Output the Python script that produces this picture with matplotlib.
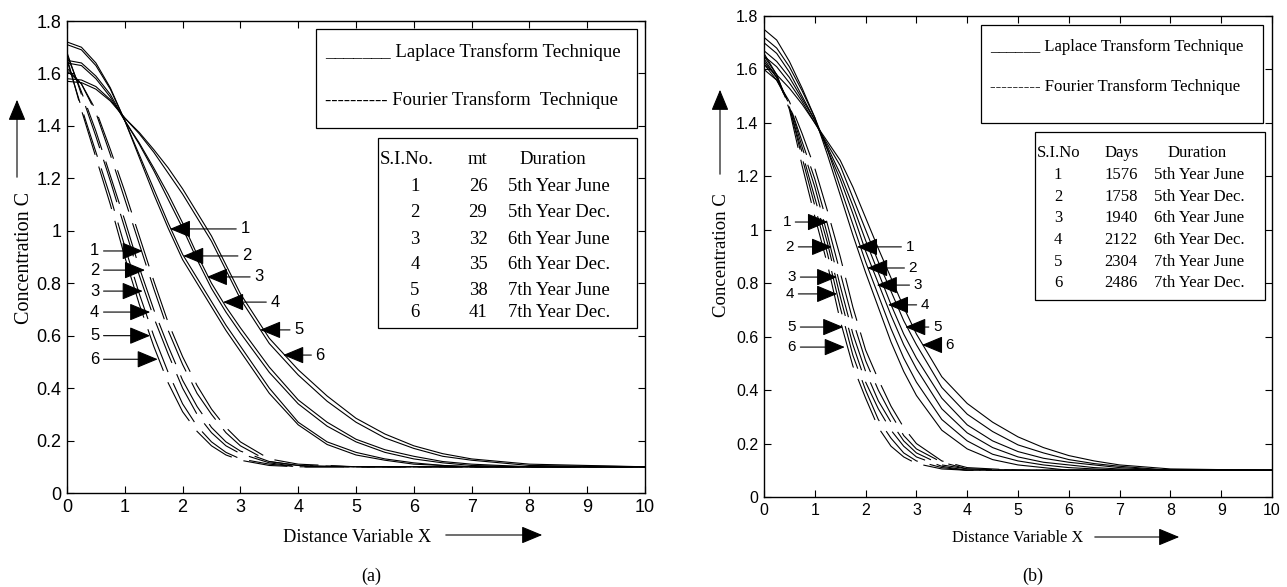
import matplotlib
matplotlib.use('Agg')
import matplotlib.pyplot as plt
from matplotlib.patches import Rectangle, FancyArrowPatch
from matplotlib.ticker import FormatStrFormatter

x_lap = [0, 0.25, 0.5, 0.75, 1, 1.25, 1.5, 1.75, 2, 2.25, 2.5, 2.75, 3,
         3.5, 4, 4.5, 5, 5.5, 6, 6.5, 7, 8, 10]
x_four = [0, 0.25, 0.5, 0.75, 1, 1.25, 1.5, 1.75, 2, 2.25, 2.5, 2.75, 3, 3.5, 4, 5, 10]

# panel (a) - Laplace transform technique (solid), curves 1..6
lap_a = [
    [1.72, 1.70, 1.64, 1.545, 1.42, 1.28, 1.14, 1.01, 0.89, 0.80, 0.71, 0.62, 0.54,
     0.38, 0.26, 0.185, 0.145, 0.125, 0.11, 0.105, 0.10, 0.10, 0.10],
    [1.71, 1.69, 1.63, 1.54, 1.42, 1.29, 1.16, 1.03, 0.91, 0.82, 0.73, 0.64, 0.56,
     0.40, 0.27, 0.195, 0.155, 0.13, 0.115, 0.105, 0.10, 0.10, 0.10],
    [1.65, 1.64, 1.59, 1.52, 1.42, 1.33, 1.23, 1.12, 1.01, 0.89, 0.78, 0.69, 0.61,
     0.46, 0.34, 0.255, 0.195, 0.155, 0.13, 0.115, 0.105, 0.10, 0.10],
    [1.64, 1.63, 1.58, 1.51, 1.42, 1.335, 1.24, 1.14, 1.03, 0.91, 0.80, 0.71, 0.63,
     0.48, 0.355, 0.27, 0.205, 0.165, 0.14, 0.12, 0.11, 0.10, 0.10],
    [1.58, 1.575, 1.55, 1.50, 1.43, 1.37, 1.30, 1.22, 1.14, 1.05, 0.96, 0.85, 0.74,
     0.57, 0.45, 0.35, 0.27, 0.21, 0.17, 0.14, 0.125, 0.105, 0.10],
    [1.57, 1.565, 1.54, 1.495, 1.43, 1.375, 1.31, 1.24, 1.16, 1.07, 0.98, 0.87, 0.76,
     0.59, 0.47, 0.37, 0.285, 0.225, 0.18, 0.15, 0.13, 0.11, 0.10],
]
# panel (a) - Fourier transform technique (dashed)
four_a = [
    [1.66, 1.46, 1.28, 1.10, 0.90, 0.72, 0.56, 0.42, 0.31, 0.235, 0.18, 0.145, 0.125, 0.105, 0.10, 0.10, 0.10],
    [1.65, 1.47, 1.30, 1.13, 0.94, 0.76, 0.60, 0.46, 0.34, 0.255, 0.195, 0.155, 0.13, 0.11, 0.10, 0.10, 0.10],
    [1.68, 1.52, 1.36, 1.19, 1.01, 0.83, 0.67, 0.53, 0.40, 0.30, 0.23, 0.18, 0.15, 0.115, 0.10, 0.10, 0.10],
    [1.67, 1.53, 1.38, 1.21, 1.04, 0.86, 0.70, 0.56, 0.43, 0.33, 0.25, 0.195, 0.16, 0.12, 0.105, 0.10, 0.10],
    [1.62, 1.56, 1.45, 1.29, 1.12, 0.95, 0.78, 0.62, 0.49, 0.38, 0.30, 0.23, 0.18, 0.12, 0.105, 0.10, 0.10],
    [1.61, 1.56, 1.46, 1.31, 1.15, 0.98, 0.81, 0.65, 0.52, 0.41, 0.32, 0.25, 0.195, 0.13, 0.11, 0.10, 0.10],
]

# panel (b) - Laplace (solid)
lap_b = [
    [1.75, 1.71, 1.63, 1.53, 1.42, 1.28, 1.13, 0.98, 0.84, 0.71, 0.58, 0.47, 0.38,
     0.25, 0.18, 0.14, 0.12, 0.11, 0.10, 0.10, 0.10, 0.10, 0.10],
    [1.72, 1.68, 1.61, 1.52, 1.42, 1.30, 1.16, 1.02, 0.88, 0.755, 0.63, 0.52, 0.43,
     0.29, 0.21, 0.16, 0.135, 0.12, 0.11, 0.105, 0.10, 0.10, 0.10],
    [1.70, 1.66, 1.59, 1.50, 1.41, 1.30, 1.19, 1.06, 0.92, 0.80, 0.68, 0.57, 0.48,
     0.33, 0.24, 0.185, 0.15, 0.13, 0.12, 0.11, 0.105, 0.10, 0.10],
    [1.67, 1.63, 1.57, 1.49, 1.41, 1.31, 1.21, 1.09, 0.96, 0.84, 0.72, 0.61, 0.52,
     0.37, 0.27, 0.21, 0.17, 0.145, 0.13, 0.12, 0.11, 0.10, 0.10],
    [1.65, 1.61, 1.55, 1.48, 1.40, 1.32, 1.24, 1.12, 1.00, 0.88, 0.77, 0.66, 0.57,
     0.41, 0.31, 0.245, 0.195, 0.165, 0.14, 0.125, 0.115, 0.10, 0.10],
    [1.62, 1.58, 1.53, 1.47, 1.40, 1.33, 1.26, 1.16, 1.045, 0.93, 0.82, 0.71, 0.61,
     0.45, 0.35, 0.28, 0.225, 0.185, 0.155, 0.135, 0.12, 0.105, 0.10],
]
# panel (b) - Fourier (dashed)
four_b = [
    [1.66, 1.58, 1.45, 1.24, 1.05, 0.87, 0.66, 0.49, 0.37, 0.26, 0.19, 0.15, 0.125, 0.105, 0.10, 0.10, 0.10],
    [1.65, 1.58, 1.46, 1.27, 1.09, 0.91, 0.71, 0.53, 0.40, 0.29, 0.22, 0.165, 0.135, 0.11, 0.10, 0.10, 0.10],
    [1.64, 1.57, 1.46, 1.29, 1.12, 0.95, 0.75, 0.57, 0.43, 0.33, 0.25, 0.19, 0.15, 0.115, 0.10, 0.10, 0.10],
    [1.63, 1.57, 1.47, 1.31, 1.16, 0.98, 0.79, 0.61, 0.47, 0.36, 0.28, 0.21, 0.165, 0.12, 0.105, 0.10, 0.10],
    [1.62, 1.56, 1.47, 1.33, 1.19, 1.02, 0.84, 0.66, 0.51, 0.40, 0.31, 0.23, 0.18, 0.13, 0.105, 0.10, 0.10],
    [1.60, 1.56, 1.48, 1.36, 1.23, 1.07, 0.90, 0.71, 0.55, 0.44, 0.34, 0.26, 0.20, 0.135, 0.11, 0.10, 0.10],
]

curve_labels = ['1', '2', '3', '4', '5', '6']

# table contents
sl_no = ['1', '2', '3', '4', '5', '6']
mt_a = ['26', '29', '32', '35', '38', '41']
days_b = ['1576', '1758', '1940', '2122', '2304', '2486']
duration = ['5th Year June', '5th Year Dec.', '6th Year June',
            '6th Year Dec.', '7th Year June', '7th Year Dec.']

SANS = 'Liberation Sans'
SERIF = 'Liberation Serif'
W, H = 1287, 587
HEAD = '-|>,head_length=0.65,head_width=0.27'

fig = plt.figure(figsize=(W / 100, H / 100), dpi=100)
ax_a = fig.add_axes([67 / W, 1 - 493 / H, (645 - 67) / W, (493 - 21) / H])
ax_b = fig.add_axes([764 / W, 1 - 497 / H, (1272 - 764) / W, (497 - 16) / H])

dash = (0, (40, 11))


def style_axes(ax, fs):
    ax.set_xlim(0, 10)
    ax.set_ylim(0, 1.8)
    ax.set_xticks(range(0, 11))
    ax.set_yticks([0, 0.2, 0.4, 0.6, 0.8, 1.0, 1.2, 1.4, 1.6, 1.8])
    ax.yaxis.set_major_formatter(FormatStrFormatter('%g'))
    ax.tick_params(direction='in', top=True, right=True, length=5, width=0.8,
                   labelsize=fs, pad=4)
    for lab in ax.get_xticklabels() + ax.get_yticklabels():
        lab.set_family(SANS)
    for s in ax.spines.values():
        s.set_linewidth(1.0)


def arrow_note(ax, text, tip, pos, fs):
    ax.annotate(text, xy=tip, xytext=pos, ha='center', va='center',
                fontsize=fs, family=SANS,
                arrowprops=dict(arrowstyle=HEAD, color='k', lw=0.8,
                                shrinkA=1, shrinkB=0, mutation_scale=20))


# ---------------- panel (a)
for y in lap_a:
    ax_a.plot(x_lap, y, color='k', lw=0.8)
for y in four_a:
    ax_a.plot(x_four, y, color='k', lw=0.8, linestyle=dash)
style_axes(ax_a, 13)

tips_a_lap = [(1.78, 1.007), (2.01, 0.904), (2.42, 0.824), (2.70, 0.728), (3.34, 0.622), (3.74, 0.526)]
pos_a_lap = [(3.08, 1.007), (3.11, 0.904), (3.32, 0.824), (3.60, 0.728), (4.01, 0.622), (4.38, 0.526)]
tips_a_four = [(1.31, 0.923), (1.35, 0.85), (1.31, 0.77), (1.44, 0.69), (1.44, 0.60), (1.57, 0.51)]
pos_a_four = [(0.48, 0.923), (0.48, 0.85), (0.48, 0.77), (0.48, 0.69), (0.48, 0.60), (0.48, 0.51)]
for lab, t, p in zip(curve_labels, tips_a_lap, pos_a_lap):
    arrow_note(ax_a, lab, t, p, 12)
for lab, t, p in zip(curve_labels, tips_a_four, pos_a_four):
    arrow_note(ax_a, lab, t, p, 12)

ax_a.add_patch(Rectangle((4.31, 1.392), 9.86 - 4.31, 1.770 - 1.392, fill=False, lw=0.9, zorder=5))
ax_a.text(4.46, 1.682, '_______ Laplace Transform Technique', family=SERIF, fontsize=13.5, va='center')
ax_a.text(4.46, 1.499, '---------- Fourier Transform  Technique', family=SERIF, fontsize=13.5, va='center')

ax_a.add_patch(Rectangle((5.38, 0.629), 9.86 - 5.38, 1.354 - 0.629, fill=False, lw=0.9, zorder=5))
rows_a = [1.167, 1.068, 0.965, 0.870, 0.774, 0.690]
ax_a.text(5.88, 1.27, 'S.I.No.', family=SERIF, fontsize=13.5, ha='center', va='center')
ax_a.text(7.11, 1.27, 'mt', family=SERIF, fontsize=13.5, ha='center', va='center')
ax_a.text(8.41, 1.27, 'Duration', family=SERIF, fontsize=13.5, ha='center', va='center')
for ry, n, m, d in zip(rows_a, sl_no, mt_a, duration):
    ax_a.text(6.02, ry, n, family=SERIF, fontsize=13.5, ha='center', va='center')
    ax_a.text(7.11, ry, m, family=SERIF, fontsize=13.5, ha='center', va='center')
    ax_a.text(7.63, ry, d, family=SERIF, fontsize=13.5, ha='left', va='center')

# ---------------- panel (b)
for y in lap_b:
    ax_b.plot(x_lap, y, color='k', lw=0.8)
for y in four_b:
    ax_b.plot(x_four, y, color='k', lw=0.8, linestyle=dash)
style_axes(ax_b, 11.5)

tips_b_lap = [(1.83, 0.936), (2.03, 0.857), (2.22, 0.793), (2.44, 0.719), (2.78, 0.636), (3.11, 0.569)]
pos_b_lap = [(2.87, 0.936), (2.93, 0.857), (3.03, 0.793), (3.17, 0.719), (3.41, 0.636), (3.66, 0.569)]
tips_b_four = [(1.26, 1.029), (1.34, 0.936), (1.44, 0.823), (1.44, 0.760), (1.56, 0.636), (1.59, 0.561)]
pos_b_four = [(0.45, 1.029), (0.51, 0.936), (0.55, 0.823), (0.51, 0.760), (0.55, 0.636), (0.55, 0.561)]
for lab, t, p in zip(curve_labels, tips_b_lap, pos_b_lap):
    arrow_note(ax_b, lab, t, p, 11)
for lab, t, p in zip(curve_labels, tips_b_four, pos_b_four):
    arrow_note(ax_b, lab, t, p, 11)

ax_b.add_patch(Rectangle((4.27, 1.40), 9.82 - 4.27, 1.766 - 1.40, fill=False, lw=0.9, zorder=5))
ax_b.text(4.45, 1.684, '______ Laplace Transform Technique', family=SERIF, fontsize=12, va='center')
ax_b.text(4.45, 1.534, '--------- Fourier Transform Technique', family=SERIF, fontsize=12, va='center')

ax_b.add_patch(Rectangle((5.33, 0.737), 9.86 - 5.33, 1.366 - 0.737, fill=False, lw=0.9, zorder=5))
rows_b = [1.205, 1.123, 1.044, 0.962, 0.880, 0.801]
ax_b.text(5.81, 1.287, 'S.I.No', family=SERIF, fontsize=12, ha='center', va='center')
ax_b.text(7.05, 1.287, 'Days', family=SERIF, fontsize=12, ha='center', va='center')
ax_b.text(8.52, 1.287, 'Duration', family=SERIF, fontsize=12, ha='center', va='center')
for ry, n, dd, d in zip(rows_b, sl_no, days_b, duration):
    ax_b.text(5.79, ry, n, family=SERIF, fontsize=12, ha='center', va='center')
    ax_b.text(7.03, ry, dd, family=SERIF, fontsize=12, ha='center', va='center')
    ax_b.text(7.68, ry, d, family=SERIF, fontsize=12, ha='left', va='center')

# ---------------- axis labels with their arrows
fig.text(25 / W, 1 - 258 / H, 'Concentration C', family=SERIF, fontsize=14.5,
         rotation=90, ha='center', va='center')
fig.text(722 / W, 1 - 255 / H, 'Concentration C', family=SERIF, fontsize=13.5,
         rotation=90, ha='center', va='center')
fig.text(357 / W, 1 - 537 / H, 'Distance Variable X', family=SERIF, fontsize=13.2,
         ha='center', va='center')
fig.text(1018 / W, 1 - 538 / H, 'Distance Variable X', family=SERIF, fontsize=11.7,
         ha='center', va='center')
fig.text(371 / W, 1 - 576 / H, '(a)', family=SERIF, fontsize=13, ha='center', va='center')
fig.text(1033 / W, 1 - 576 / H, '(b)', family=SERIF, fontsize=13, ha='center', va='center')

axis_arrows = [((17, H - 180), (17, H - 97)), ((720, H - 177), (720, H - 87)),
               ((443, H - 535), (545, H - 535)), ((1092, H - 537), (1182, H - 537))]
for tail, head in axis_arrows:
    fig.add_artist(FancyArrowPatch(tail, head, transform=None, arrowstyle=HEAD,
                                   mutation_scale=20, color='k', lw=0.8))

fig.savefig('out.png', dpi=100)
